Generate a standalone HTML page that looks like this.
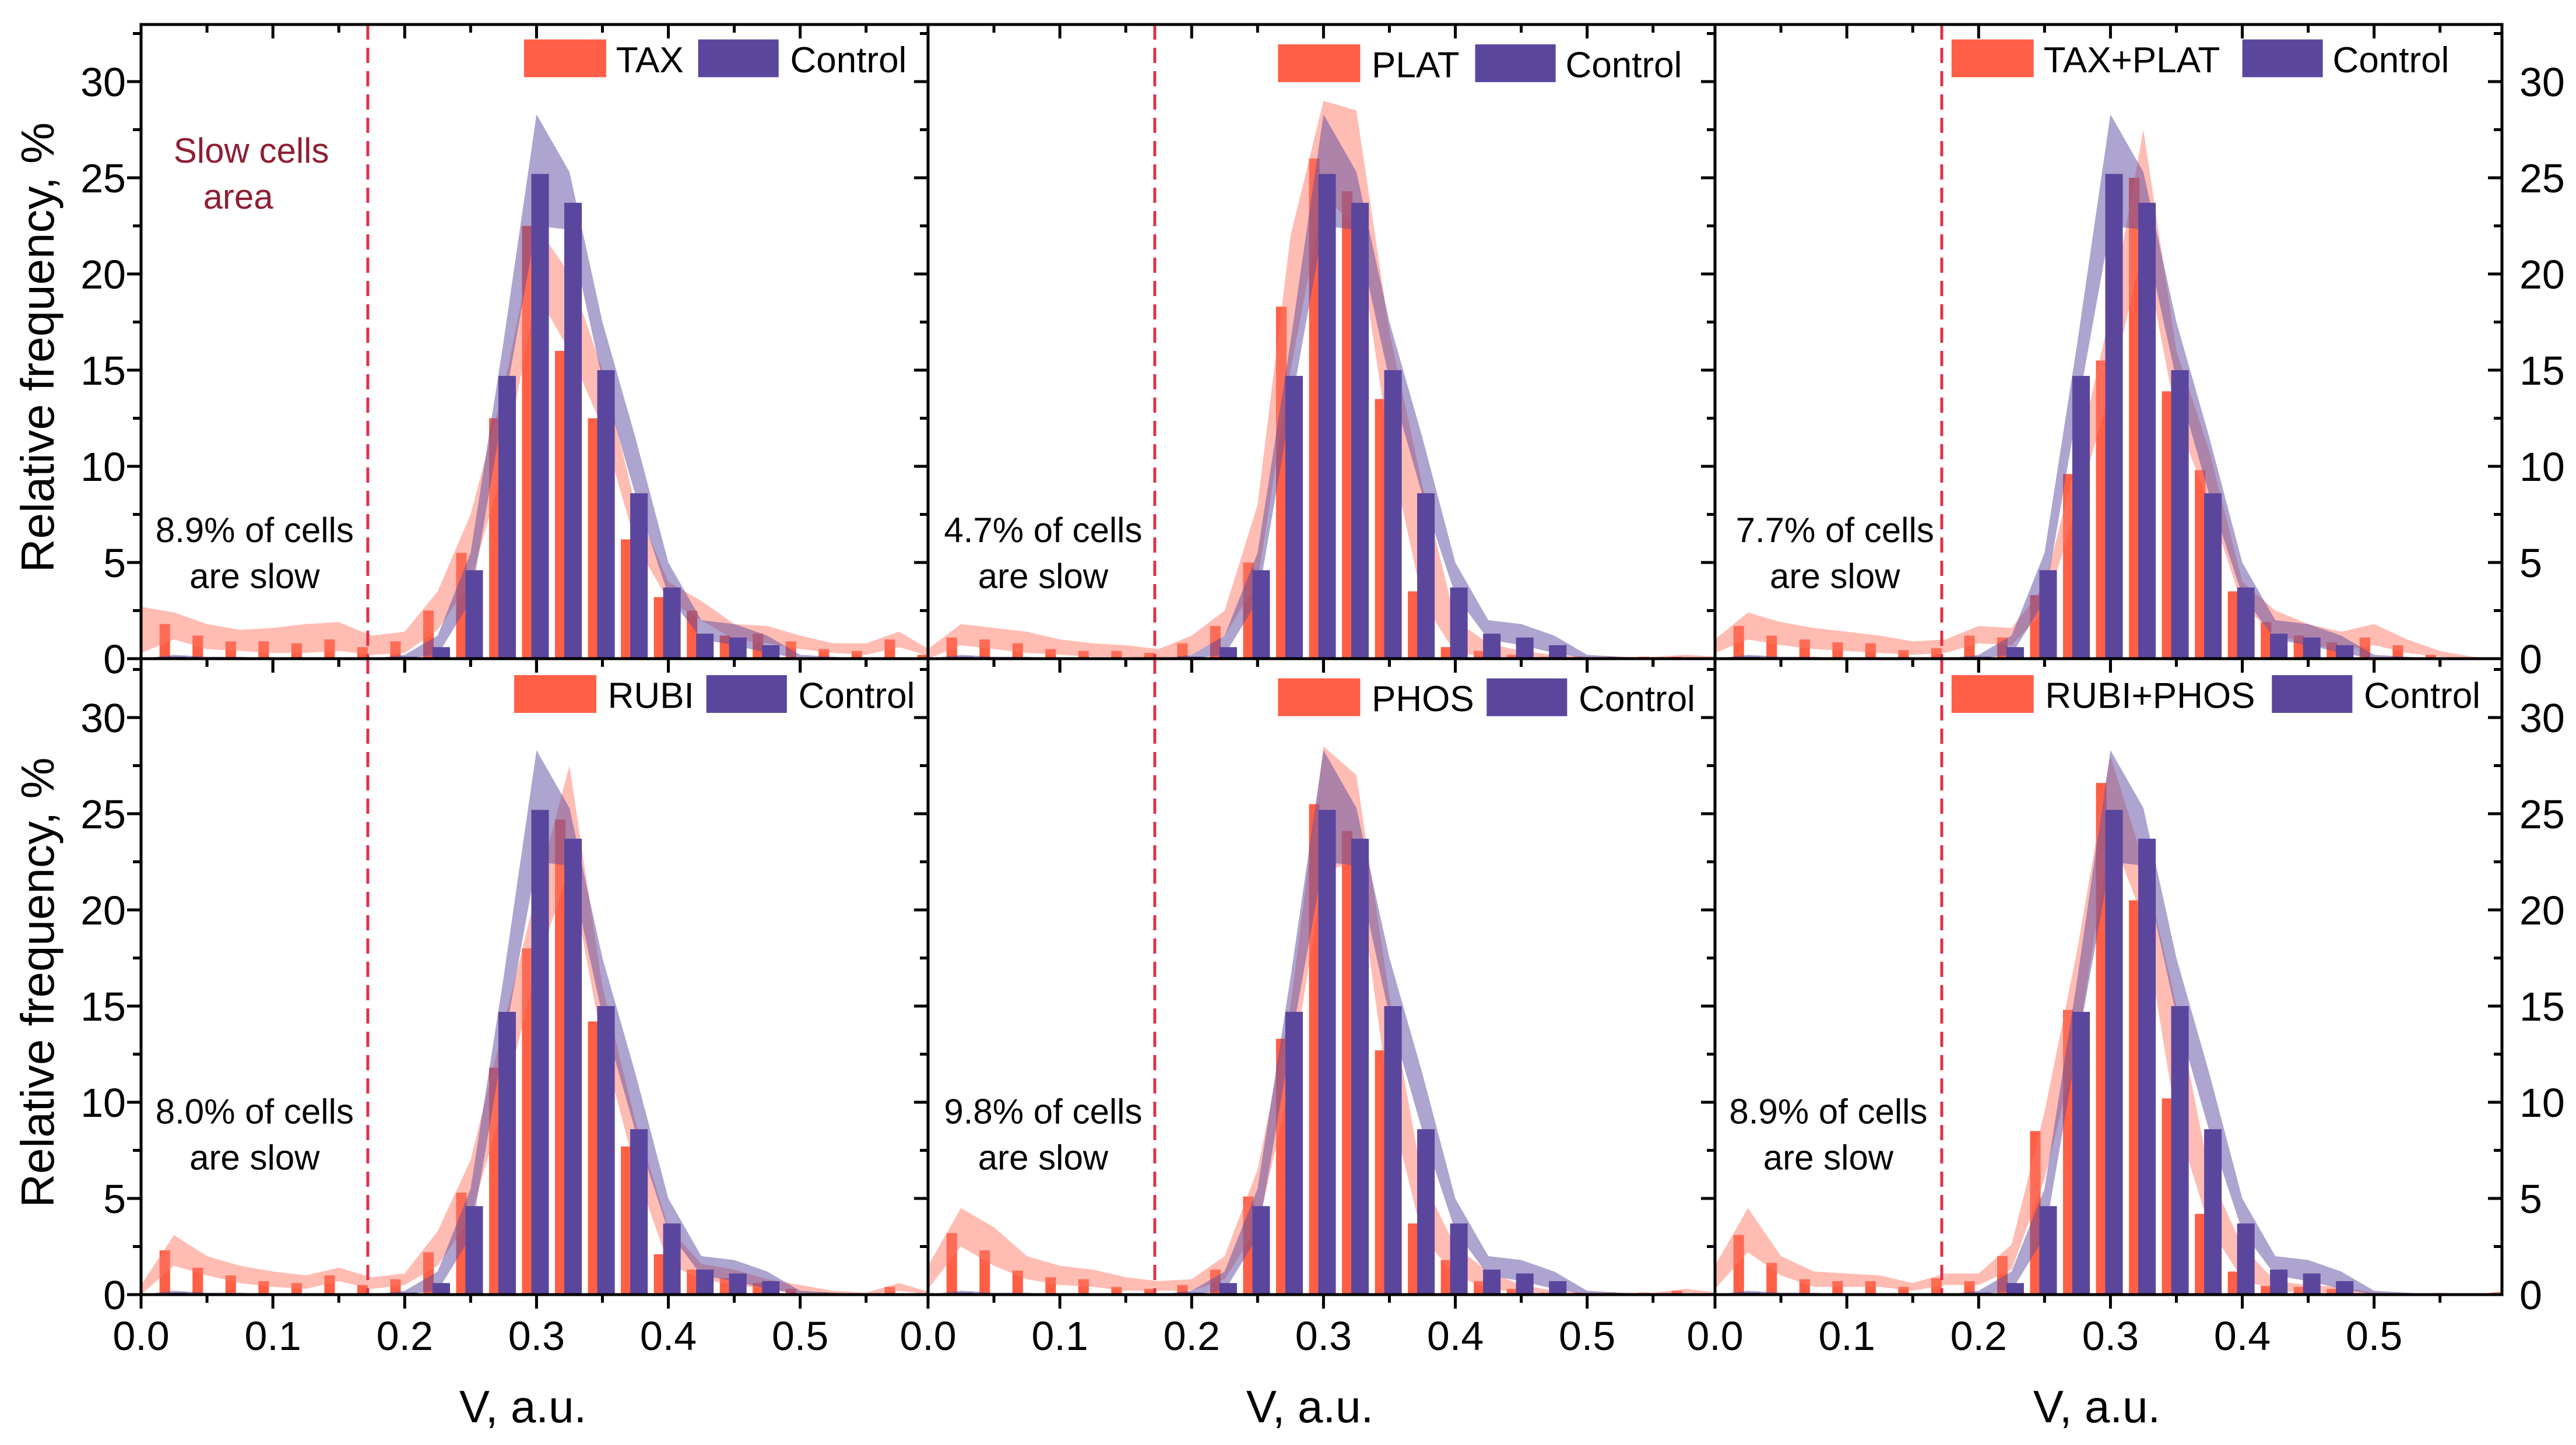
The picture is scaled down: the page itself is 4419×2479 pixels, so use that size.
<!DOCTYPE html>
<html><head><meta charset="utf-8"><style>
html,body{margin:0;padding:0;background:#fff}
svg{display:block}
text{font-family:"Liberation Sans",Arial,sans-serif}
</style></head><body>
<svg id="chart" width="4419" height="2479" viewBox="0 0 4419 2479" xmlns="http://www.w3.org/2000/svg">
<rect x="0" y="0" width="4419" height="2479" fill="#fff"/>
<g id="layer"></g>
</svg>
<script>
const binCenters=[0,0.025,0.05,0.075,0.1,0.125,0.15,0.175,0.2,0.225,0.25,0.275,0.3,0.325,0.35,0.375,0.4,0.425,0.45,0.475,0.5,0.525,0.55,0.575,0.6];
const xTickLabels=["0.0","0.1","0.2","0.3","0.4","0.5"];
const yTickLabels=["0","5","10","15","20","25","30"];
const panelNames=["TAX","PLAT","TAX+PLAT","RUBI","PHOS","RUBI+PHOS"];
const slowTexts=["8.9%","4.7%","7.7%","8.0%","9.8%","8.9%"];
const slowThreshold=0.172;
const ctrlBars=[0,0.1,0,0.05,0,0,0,0,0.1,0.6,4.6,14.7,25.2,23.7,15.0,8.6,3.7,1.3,1.1,0.7,0.05,0.05,0,0,0];
const ctrlHi=[0,0.2,0.1,0.1,0,0,0,0,0.2,1.2,5.5,16.5,28.3,25.3,17.5,11.5,5,2,1.8,1.2,0.2,0.1,0,0,0];
const ctrlLo=[0,0,0,0,0,0,0,0,0,0.2,3.0,13,22.5,22.3,14.5,8.5,3.3,1,0.7,0.3,0,0,0,0,0];
const taxBars=[1.5,1.8,1.2,0.9,0.9,0.8,1.0,0.6,0.9,2.5,5.5,12.5,22.5,16,12.5,6.2,3.2,2.5,1.2,1.3,0.9,0.5,0.4,1.0,0.2];
const taxHi=[2.7,2.4,1.8,1.5,1.6,1.8,1.9,1.2,1.4,3.5,7.5,14,22.5,20,15,8,4,3,1.8,1.7,1.2,0.8,0.8,1.4,0.4];
const taxLo=[0.3,1.0,0.5,0.4,0.3,0.3,0.4,0.2,0.3,1.5,4,10,19,16,12,6,3,2,1,0.8,0.5,0.3,0.2,0.6,0.1];
const platBars=[0.3,1.1,1.0,0.8,0.5,0.4,0.4,0.3,0.8,1.7,5.0,18.3,26.0,24.3,13.5,3.5,0.6,0.4,0.2,0.1,0.1,0.1,0.1,0.1,0];
const platHi=[0.5,1.8,1.6,1.4,1.0,0.8,0.7,0.5,1.2,2.5,8,22,29,28.5,17,9,2,0.8,0.4,0.2,0.1,0.1,0.1,0.2,0.1];
const platLo=[0,0.7,0.5,0.3,0.2,0.1,0.1,0,0.2,1.2,4,15,24,22.5,11,3,0.3,0.1,0,0,0,0,0,0,0];
const taxPlatBars=[0.8,1.7,1.2,1.0,0.85,0.8,0.45,0.55,1.2,1.1,3.3,9.6,15.5,25.0,13.9,9.8,3.5,1.9,1.2,0.85,1.1,0.7,0.2,0,0];
const taxPlatHi=[1.0,2.4,1.9,1.6,1.4,1.2,0.9,1.0,1.7,1.6,3.8,10.5,18,27.5,16,10.8,4,2.5,1.8,1.4,1.8,1.0,0.4,0.1,0];
const taxPlatLo=[0.3,1.0,0.7,0.5,0.4,0.3,0.2,0.3,0.8,0.7,2.5,8,14,21.5,12.5,8,2.8,1.2,0.8,0.4,0.7,0.3,0.1,0,0];
const rubiBars=[0.3,2.3,1.4,1.0,0.7,0.6,1.0,0.5,0.8,2.2,5.3,11.8,18.0,24.7,14.2,7.7,2.1,1.3,0.85,0.6,0.3,0.1,0,0.4,0];
const rubiHi=[0.5,3.1,2.0,1.5,1.2,1.0,1.4,0.9,1.1,3.3,7,14,21,27.5,16,9,3.5,1.6,1.3,0.8,0.5,0.2,0.1,0.6,0.1];
const rubiLo=[0,1.5,1.0,0.6,0.4,0.3,0.7,0.3,0.5,1.5,4,10,17,22.2,13,6.5,1.6,0.8,0.5,0.3,0.1,0,0,0.2,0];
const phosBars=[0.8,3.2,2.3,1.25,0.9,0.8,0.4,0.3,0.5,1.3,5.1,13.3,25.5,24.1,12.7,3.7,1.8,0.7,0.3,0.1,0.1,0.1,0.1,0.2,0];
const phosHi=[1.5,4.5,3.5,2.0,1.5,1.3,0.9,0.7,0.8,2.0,6.5,15,28.5,27,15.5,6,2.5,1.2,0.5,0.2,0.1,0.1,0.1,0.3,0.1];
const phosLo=[0.3,2.5,1.5,0.8,0.5,0.4,0.2,0.2,0.2,0.8,3.5,11,22,22.5,10,3,1,0.3,0.1,0,0,0,0,0.1,0];
const rubiPhosBars=[0.5,3.1,1.65,0.8,0.7,0.7,0.4,0.85,0.7,2.0,8.5,14.8,26.6,20.5,10.2,4.2,1.2,0.45,0.4,0.3,0,0,0,0,0.1];
const rubiPhosHi=[1.5,4.5,2.0,1.2,1.1,1.0,0.6,1.1,1.1,2.6,9.5,18,28,22.5,15,6.3,2.5,0.7,0.5,0.4,0.1,0,0.1,0,0.2];
const rubiPhosLo=[0.3,2.2,1.0,0.4,0.4,0.4,0.2,0.5,0.5,1.3,6,13,24,19.5,9,3.5,0.8,0.2,0.1,0.1,0,0,0,0,0];

const treatBars=[taxBars,platBars,taxPlatBars,rubiBars,phosBars,rubiPhosBars];
const treatHi=[taxHi,platHi,taxPlatHi,rubiHi,phosHi,rubiPhosHi];
const treatLo=[taxLo,platLo,taxPlatLo,rubiLo,phosLo,rubiPhosLo];

const NS="http://www.w3.org/2000/svg";
const layer=document.getElementById('layer');
const defs=document.createElementNS(NS,'defs');layer.appendChild(defs);
const PX=[242,1592,2942], PW=1350, XMAX=0.597;
const ROWS=[{top:42,zero:1130},{top:1130,zero:2221}];
const YS=33.0;
const ORANGE="#FF5F45", PURPLE="#5B469E";
function mk(tag,attrs,parent){const e=document.createElementNS(NS,tag);for(const k in attrs)e.setAttribute(k,attrs[k]);(parent||layer).appendChild(e);return e;}
const legendPos=[
 [319,375,425,481,24],[778,835,898,953,27],[1188,1244,1365,1420,24],
 [313,370,430,486,411],[778,835,905,961,413],[1188,1245,1383,1439,411]];
const annoX=[155,635,1117,155,635,1113];
const S=2.818;

for(let p=0;p<6;p++){
  const col=p%3,row=Math.floor(p/3);
  const x0=PX[col],R=ROWS[row];
  const xs=v=>x0+v/XMAX*PW;
  const ys=v=>R.zero-v*YS;
  const g=mk('g',{});
  
  
  const cp=mk('clipPath',{id:'clip'+p},defs);
  mk('rect',{x:x0,y:R.top,width:PW,height:R.zero-R.top},cp);
  const data=mk('g',{'clip-path':'url(#clip'+p+')'},g);
  
  
  const tb=treatBars[p];
  for(let i=0;i<binCenters.length;i++){
    const c=binCenters[i]-0.007, w=0.008;
    const r=mk('rect',{x:xs(c-w/2),y:ys(tb[i]),width:xs(w)-xs(0),height:tb[i]*YS,fill:ORANGE},data);
    
    
  }
  function band(hi,lo,color,name){
    let d='';
    for(let i=0;i<binCenters.length;i++)d+=(i?'L':'M')+xs(binCenters[i]).toFixed(1)+','+ys(hi[i]).toFixed(1);
    for(let i=binCenters.length-1;i>=0;i--)d+='L'+xs(binCenters[i]).toFixed(1)+','+ys(lo[i]).toFixed(1);
    const e=mk('path',{d:d+'Z',fill:color,'fill-opacity':0.5},data);
    
    
  }
  band(treatHi[p],treatLo[p],"#FF7A68",'treatment-band');
  band(ctrlHi,ctrlLo,"#5B4AA0",'control-band');
  for(let i=0;i<binCenters.length;i++){
    const c=binCenters[i]+0.0027, w=0.0133;
    const r=mk('rect',{x:xs(c-w/2),y:ys(ctrlBars[i]),width:xs(w)-xs(0),height:ctrlBars[i]*YS,fill:PURPLE},data);
    
    
  }
  const dl=mk('line',{x1:xs(slowThreshold),x2:xs(slowThreshold),y1:R.top,y2:R.zero,stroke:"#E0304A",'stroke-width':5,'stroke-dasharray':'26,14'},g);
  
  
  const fr=mk('rect',{x:x0,y:R.top,width:PW,height:R.zero-R.top,fill:'none',stroke:'#000','stroke-width':5},g);
  
  
  for(let t=0;t<=12;t++){
    const v=t*0.05; if(v>XMAX+1e-9)continue;
    const X=xs(v), L=(t%2==0)?24:14;
    mk('line',{x1:X,x2:X,y1:R.top,y2:R.top+L,stroke:'#000','stroke-width':5},g);
    mk('line',{x1:X,x2:X,y1:R.zero,y2:R.zero+L,stroke:'#000','stroke-width':5},g);
  }
  if(row==1){
    xTickLabels.forEach((lab,i)=>{
      const v=i*0.1;
      const tx=mk('text',{x:xs(v),y:2316,'font-size':70,'text-anchor':'middle'},g);
      tx.textContent=lab;
      
      
    });
    const xt=mk('text',{x:x0+PW*0.5-20,y:2440,'font-size':78,'text-anchor':'middle'},g);
    xt.textContent='V, a.u.';
    
    
  }
  for(let t=0;t<=13;t++){
    const v=t*2.5, Y=ys(v); if(Y<R.top)continue;
    const L=(t%2==0)?24:14;
    if(col==0)mk('line',{x1:x0-L,x2:x0,y1:Y,y2:Y,stroke:'#000','stroke-width':5},g);
    mk('line',{x1:x0+PW-L,x2:x0+PW,y1:Y,y2:Y,stroke:'#000','stroke-width':5},g);
  }
  if(col==0||col==2){
    yTickLabels.forEach((lab,i)=>{
      const Y=ys(i*5)+25;
      const tx=mk('text',col==0?{x:216,y:Y,'font-size':70,'text-anchor':'end'}:{x:4322,y:Y,'font-size':70},g);
      tx.textContent=lab;
      
      
    });
  }
  if(col==0){
    const cy=(R.top+R.zero)/2+10;
    const yt=mk('text',{x:0,y:0,'font-size':80,'text-anchor':'middle',transform:'translate(92,'+cy+') rotate(-90)'},g);
    yt.textContent='Relative frequency, %';
    
    
  }
  const lp=legendPos[p];
  const lg=mk('g',{},g);
  
  
  mk('rect',{x:lp[0]*S,y:lp[4]*S,width:50*S,height:23*S,fill:ORANGE},lg);
  const t1=mk('text',{x:lp[1]*S,y:(lp[4]+20)*S,'font-size':62},lg);t1.textContent=panelNames[p];
  mk('rect',{x:lp[2]*S,y:lp[4]*S,width:49*S,height:23*S,fill:PURPLE},lg);
  const t2=mk('text',{x:lp[3]*S,y:(lp[4]+20)*S,'font-size':62},lg);t2.textContent='Control';
  const ay=row==0?323:677;
  const a1=mk('text',{x:annoX[p]*S,y:(ay+7)*S,'font-size':60,'text-anchor':'middle'},g);
  a1.textContent=slowTexts[p]+' of cells';
  
  
  const a2=mk('text',{x:annoX[p]*S,y:(ay+35)*S,'font-size':60,'text-anchor':'middle'},g);
  a2.textContent='are slow';
  
  
  if(p==0){
    const s1=mk('text',{x:153*S,y:99*S,'font-size':60,'text-anchor':'middle',fill:'#8E1F33'},g);
    s1.textContent='Slow cells';
    
    
    const s2=mk('text',{x:145*S,y:127*S,'font-size':60,'text-anchor':'middle',fill:'#8E1F33'},g);
    s2.textContent='area';
    
    
  }
}
</script>
</body></html>
